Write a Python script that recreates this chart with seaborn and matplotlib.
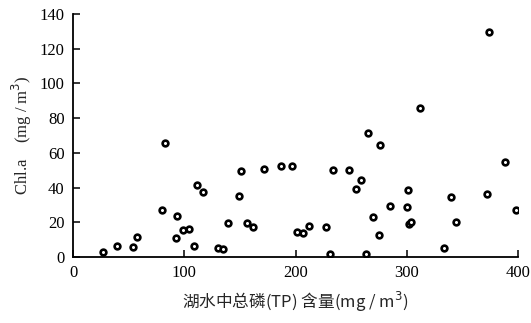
import matplotlib
matplotlib.use("Agg")
import matplotlib.pyplot as plt
import seaborn as sns
import pandas as pd

tp = [26.7, 39.8, 53.9, 57.2, 82.7, 79.7, 93.2, 92.9, 98.6, 104, 109, 111.2, 116.6,
      130.6, 135.1, 139, 149.5, 151, 156.1, 161.5, 171.7, 187, 197.1, 201.6, 207,
      211.8, 227.1, 231, 233.4, 247.8, 258.6, 254.4, 264.9, 263.7, 269.4, 276.3,
      274.8, 284.9, 312.2, 300.8, 300, 302, 304, 333.8, 339.8, 344, 373.6, 372.1,
      388.6, 398.5]
chla = [2.7, 6.5, 5.8, 11.3, 65.5, 27.1, 23.4, 10.9, 15.4, 16.3, 6.5, 41.3, 37.4,
        5.2, 4.8, 19.8, 35, 49.4, 19.8, 17.1, 50.7, 52.6, 52.4, 14.4, 14,
        17.9, 17.1, 1.7, 49.9, 49.9, 44.2, 39.4, 71.6, 1.9, 22.9, 64.7,
        12.9, 29.4, 85.8, 38.4, 28.6, 19.2, 20.2, 5.4, 34.4, 20.3, 129.6, 36.1,
        54.6, 27.3]
x_ticks = [0, 100, 200, 300, 400]
y_ticks = [0, 20, 40, 60, 80, 100, 120, 140]

df = pd.DataFrame({"tp": tp, "chla": chla})

sns.set_theme(style="ticks")
plt.rcParams['font.family'] = ['Liberation Serif', 'Noto Sans CJK SC', 'DejaVu Sans']

fig = plt.figure(figsize=(5.31, 3.23), dpi=100)
ax = fig.add_axes([0.1375, 0.2043, 0.838, 0.7524])
sns.scatterplot(data=df, x="tp", y="chla", ax=ax, marker="o", s=17,
                facecolor="white", edgecolor="black", linewidth=1.9, zorder=3)

ax.set_xlim(0, 400)
ax.set_ylim(0, 140)
ax.set_xticks(x_ticks)
ax.set_yticks(y_ticks)
ax.tick_params(direction="in", length=5, width=1.1, labelsize=12, colors="black", pad=6)
for s in ["top", "right"]:
    ax.spines[s].set_visible(False)
for s in ["left", "bottom"]:
    ax.spines[s].set_linewidth(1.3)
    ax.spines[s].set_color("black")

ax.set_ylabel("Chl.a    (mg / m$^3$)", fontsize=12, labelpad=4)
ax.set_xlabel("湖水中总磷(TP) 含量(mg / m$^3$)", fontsize=12, labelpad=6,
              fontfamily=['Noto Sans CJK SC', 'Liberation Serif'])

fig.savefig("out.png", dpi=100)
